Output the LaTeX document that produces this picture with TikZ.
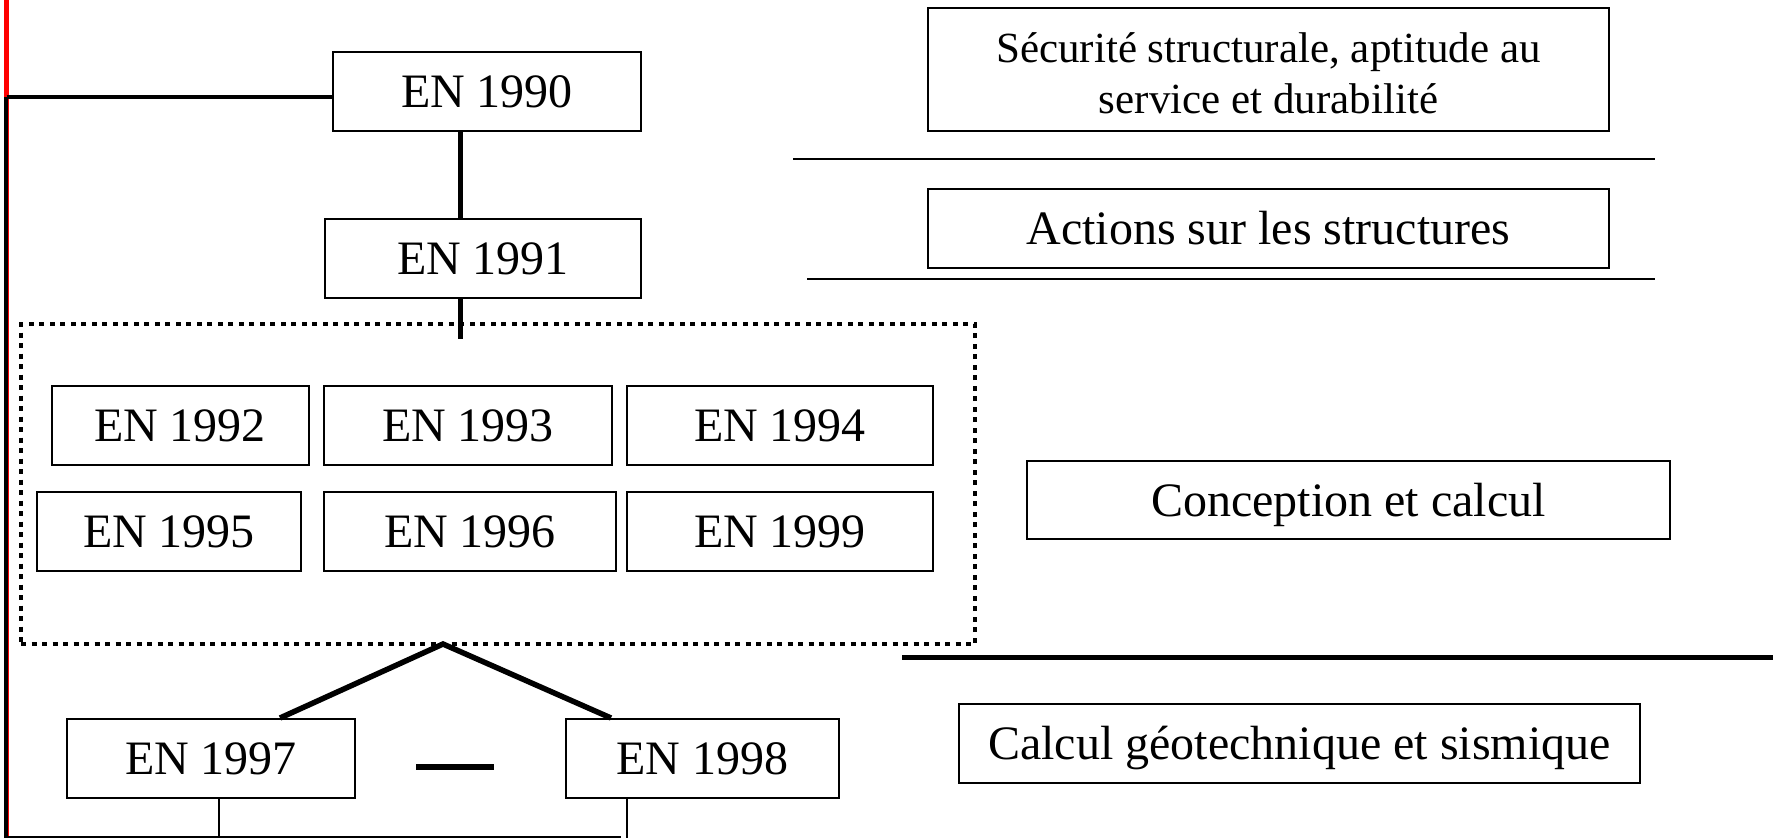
\documentclass[tikz,border=0pt]{standalone}
\usepackage{fontspec}
\setmainfont{Liberation Serif}
\begin{document}
\begin{tikzpicture}[x=1pt,y=-1pt,
  box/.style={draw, line width=2pt, inner sep=0pt, text height=32pt, text depth=0pt,
              font=\fontsize{48}{56}\selectfont},
  frame/.style={draw, line width=2pt, inner sep=0pt},
  heavy/.style={line width=4.5pt},
  light/.style={line width=2pt},
  group/.style={draw, line width=4.5pt, dash pattern=on 5pt off 5.5pt, inner sep=0pt}]
\useasboundingbox (0,0) rectangle (1773,838);

% dotted frame around the design standards
\node[group, minimum width=954pt, minimum height=320pt] (grp) at (498,484) {};

% standard boxes
\node[box, minimum width=308pt, minimum height=79pt] (e1990) at (487,91.5) {EN 1990};
\node[box, minimum width=316pt, minimum height=79pt] (e1991) at (483,258.5) {EN 1991};
\node[box, minimum width=257pt, minimum height=79pt] (e1992) at (180,425.5) {EN 1992};
\node[box, minimum width=288pt, minimum height=79pt] (e1993) at (468,425.5) {EN 1993};
\node[box, minimum width=306pt, minimum height=79pt] (e1994) at (780,425.5) {EN 1994};
\node[box, minimum width=264pt, minimum height=79pt] (e1995) at (169,531.5) {EN 1995};
\node[box, minimum width=292pt, minimum height=79pt] (e1996) at (470,531.5) {EN 1996};
\node[box, minimum width=306pt, minimum height=79pt] (e1999) at (780,531.5) {EN 1999};
\node[box, minimum width=288pt, minimum height=79pt] (e1997) at (211,758.5) {EN 1997};
\node[box, minimum width=273pt, minimum height=79pt] (e1998) at (702.5,758.5) {EN 1998};

% description boxes
\node[frame, minimum width=681pt, minimum height=123pt] (secu) at (1268.5,69.5) {};
\node[inner sep=0pt, align=center, font=\fontsize{43}{51}\selectfont]
      (secutxt) at ([yshift=-3.5pt]secu.center)
      {Sécurité structurale, aptitude au\\service et durabilité};
\node[box, minimum width=681pt, minimum height=79pt] (act) at (1268.5,228.5) {Actions sur les structures};
\node[box, minimum width=643pt, minimum height=78pt] (conc) at (1348.5,500) {Conception et calcul};
\node[box, minimum width=681pt, minimum height=79pt] (geo) at (1299.5,743.5) {Calcul géotechnique et sismique};

% left spine
\coordinate (top) at (6.5,0);
\coordinate (bend) at (6.5,97);
\coordinate (bot) at (6.5,838);
\draw[red, line width=5pt] (top) -- (bot);
\draw[heavy] ([xshift=-0.3pt]bend) -- ([xshift=-0.3pt]bot);
\draw[line width=4pt] (bend) -- (bend -| e1990.west);

% vertical chain EN 1990 - EN 1991 - group
\coordinate (sp) at (460.5,0);
\coordinate (tick) at (460.5,339);
\draw[heavy] (sp |- e1990.south) -- (sp |- e1991.north);
\draw[heavy] (sp |- e1991.south) -- (tick);

% branch to EN 1997 / EN 1998
\coordinate (apex) at (443,644);
\draw[line width=5.5pt] ([xshift=69pt]e1997.north) -- (apex) -- ([xshift=-91.5pt]e1998.north);
\draw[line width=6pt] ([xshift=60pt,yshift=-8pt]e1997.east) -- ([xshift=-71pt,yshift=-8pt]e1998.west);

% bottom links
\coordinate (base) at (0,837);
\draw[light] ([xshift=8pt]e1997.south) -- ([xshift=8pt]e1997.south |- bot);
\draw[light] ([xshift=-75.5pt]e1998.south) -- ([xshift=-75.5pt]e1998.south |- bot);
\draw[light] (bend |- base) -- ([xshift=-82pt]e1998.south |- base);

% separator rules on the right
\coordinate (r1a) at (793,158.5);
\coordinate (r1b) at (1655,158.5);
\coordinate (r2a) at (807,279);
\coordinate (r2b) at (1655,279);
\coordinate (r3a) at (902,657);
\coordinate (r3b) at (1773,657);
\draw[light] (r1a) -- (r1b);
\draw[light] (r2a) -- (r2b);
\draw[line width=5pt] (r3a) -- (r3b);
\end{tikzpicture}
\end{document}
